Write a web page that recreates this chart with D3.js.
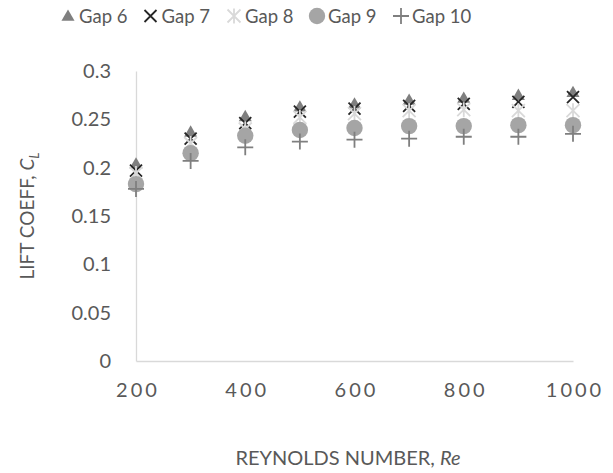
<!DOCTYPE html>
<html>
<head>
<meta charset="utf-8">
<script src="https://cdn.jsdelivr.net/npm/d3@7"></script>
<style>
  html, body { margin: 0; padding: 0; background: #fff; }
  svg { display: block; font-family: Lato, "Open Sans", sans-serif; }
</style>
</head>
<body>
<svg id="chart" width="613" height="473"></svg>
<script>
// Reynolds numbers sampled
const reynolds = [200, 300, 400, 500, 600, 700, 800, 900, 1000];

// Lift coefficient per gap setting
const gap6  = [0.203, 0.236, 0.252, 0.262, 0.265, 0.269, 0.271, 0.274, 0.277];
const gap7  = [0.197, 0.230, 0.246, 0.258, 0.261, 0.264, 0.266, 0.268, 0.273];
const gap8  = [0.194, 0.225, 0.240, 0.252, 0.256, 0.259, 0.260, 0.259, 0.259];
const gap9  = [0.183, 0.215, 0.233, 0.239, 0.241, 0.243, 0.243, 0.244, 0.244];
const gap10 = [0.178, 0.207, 0.221, 0.227, 0.229, 0.230, 0.232, 0.232, 0.235];

const seriesNames = ["Gap 6", "Gap 7", "Gap 8", "Gap 9", "Gap 10"];
const yTicks = [0, 0.05, 0.1, 0.15, 0.2, 0.25, 0.3];
const xTicks = [200, 400, 600, 800, 1000];

const series = [
  { name: seriesNames[0], values: gap6,  shape: "triangle", color: "#7f7f7f" },
  { name: seriesNames[1], values: gap7,  shape: "x",        color: "#262626" },
  { name: seriesNames[2], values: gap8,  shape: "star",     color: "#d9d9d9" },
  { name: seriesNames[3], values: gap9,  shape: "circle",   color: "#a5a5a5" },
  { name: seriesNames[4], values: gap10, shape: "plus",     color: "#7f7f7f" }
];

const svg = d3.select("#chart");
const margin = { left: 136, right: 40, top: 71, bottom: 112 };
const W = 613, H = 473;

const x = d3.scaleLinear().domain([200, 1000]).range([margin.left, W - margin.right]);
const y = d3.scaleLinear().domain([0, 0.3]).range([H - margin.bottom, margin.top]);

const textColor = "#595959";
const axisColor = "#d9d9d9";
const font = "Lato, 'Open Sans', sans-serif";

// Axes
const yAxis = d3.axisLeft(y).tickValues(yTicks).tickSize(0).tickPadding(25)
  .tickFormat(d => String(+d.toFixed(2)));
const gy = svg.append("g").attr("transform", `translate(${margin.left},0)`).call(yAxis);
gy.select(".domain").attr("stroke", axisColor).attr("stroke-width", 1.3);
gy.selectAll("text").attr("fill", textColor).style("font-size", "20px").style("font-family", font);

const xAxis = d3.axisBottom(x).tickValues(xTicks).tickSize(0).tickPadding(22).tickFormat(d3.format("d"));
const gx = svg.append("g").attr("transform", `translate(0,${y(0)})`).call(xAxis);
gx.select(".domain").attr("stroke", axisColor).attr("stroke-width", 1.3);
gx.selectAll("text").attr("fill", textColor).style("font-size", "20px")
  .style("letter-spacing", "3px").style("font-family", font)
  .attr("dx", "1.5px");

// Axis titles
const yt = svg.append("text")
  .attr("transform", `translate(34,${(y(0.3) + y(0)) / 2}) rotate(-90)`)
  .attr("text-anchor", "middle").attr("fill", textColor).style("font-size", "19px");
yt.append("tspan").text("LIFT COEFF, ");
yt.append("tspan").attr("font-style", "italic").text("C");
yt.append("tspan").attr("font-style", "italic").attr("font-size", "13px").attr("dy", 5).text("L");

const xt = svg.append("text")
  .attr("x", 348).attr("y", 465)
  .attr("text-anchor", "middle").attr("fill", textColor).style("font-size", "20px");
xt.append("tspan").text("REYNOLDS NUMBER, ");
xt.append("tspan").attr("font-style", "italic").text("Re");

// Marker drawing
function drawMarker(g, shape, color, cx, cy) {
  if (shape === "triangle") {
    g.append("path")
      .attr("d", d3.symbol(d3.symbolTriangle, 74)())
      .attr("transform", `translate(${cx},${cy})`)
      .attr("fill", color);
  } else if (shape === "circle") {
    g.append("circle").attr("cx", cx).attr("cy", cy).attr("r", 8.2).attr("fill", color);
  } else if (shape === "x") {
    const s = 6;
    g.append("path")
      .attr("d", `M${cx - s},${cy - s}L${cx + s},${cy + s}M${cx - s},${cy + s}L${cx + s},${cy - s}`)
      .attr("stroke", color).attr("stroke-width", 1.8).attr("fill", "none");
  } else if (shape === "plus") {
    const s = 8;
    g.append("path")
      .attr("d", `M${cx - s},${cy}L${cx + s},${cy}M${cx},${cy - s}L${cx},${cy + s}`)
      .attr("stroke", color).attr("stroke-width", 1.8).attr("fill", "none");
  } else if (shape === "star") {
    const s = 6.5;
    g.append("path")
      .attr("d", `M${cx - s},${cy - s}L${cx + s},${cy + s}M${cx - s},${cy + s}L${cx + s},${cy - s}M${cx},${cy - s - 1}L${cx},${cy + s + 1}`)
      .attr("stroke", color).attr("stroke-width", 1.8).attr("fill", "none");
  }
}

const plot = svg.append("g");
series.forEach(s => {
  const g = plot.append("g");
  s.values.forEach((v, i) => drawMarker(g, s.shape, s.color, x(reynolds[i]), y(v)));
});

// Legend
const legendX = [68, 150.5, 234, 317, 401];
const legend = svg.append("g");
series.forEach((s, i) => {
  const g = legend.append("g");
  drawMarker(g, s.shape, s.color, legendX[i], s.shape === "triangle" ? 17 : 16);
  g.append("text").attr("x", legendX[i] + 11).attr("y", 23)
    .attr("fill", textColor).style("font-size", "18.5px").text(s.name);
});
</script>
</body>
</html>
